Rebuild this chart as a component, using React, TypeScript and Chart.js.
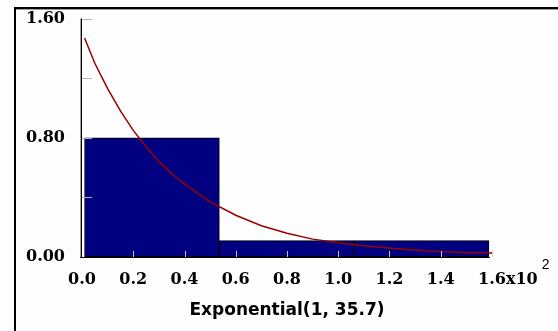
import React, { useEffect, useRef } from 'react';
import { Chart, registerables } from 'chart.js';

Chart.register(...registerables);

// Histogram bins (x in units of 10^2)
const binEdges = [0.01, 0.536, 1.062, 1.588];
const binHeights = [0.8, 0.11, 0.11];

// Fitted density curve
const curveX = [0.01, 0.05, 0.1, 0.15, 0.2, 0.25, 0.3, 0.35, 0.4, 0.45, 0.5, 0.6, 0.7, 0.8, 0.9, 1.0, 1.1, 1.2, 1.3, 1.4, 1.5, 1.6];
const curveY = [1.47, 1.3, 1.13, 0.98, 0.85, 0.74, 0.64, 0.56, 0.49, 0.43, 0.37, 0.28, 0.21, 0.16, 0.12, 0.095, 0.075, 0.06, 0.047, 0.035, 0.03, 0.027];

const yLabelValues = [0, 0.8, 1.6];
const titleText = 'Exponential(1, 35.7)';
const xMultiplier = 'x10';
const xExponent = '2';

const TICK_FONT = { family: 'DejaVu Serif', weight: 'bold' as const, size: 16 };
const TICK_LEN = 8; // Chart.js default tick mark length, reserved even with hidden grid
const X_TICK_PAD = 5;

const decorPlugin = {
  id: 'decor',
  beforeDraw(chart: any) {
    const ctx = chart.ctx;
    ctx.save();
    ctx.fillStyle = '#fefefe';
    ctx.fillRect(0, 0, chart.width, chart.height);
    // outer frame (top/left visible)
    ctx.fillStyle = '#000';
    ctx.fillRect(14, 7, chart.width - 14, 2);
    ctx.fillRect(14, 7, 2, chart.height - 7);
    ctx.fillStyle = '#9a9a9a';
    ctx.fillRect(16, 9, chart.width - 16, 1);
    ctx.restore();
  },
  afterDatasetsDraw(chart: any) {
    const ctx = chart.ctx;
    const xs = chart.scales.x;
    const ys = chart.scales.y;
    const { left, right, top, bottom } = chart.chartArea;
    ctx.save();
    // y tick marks (inside)
    ctx.strokeStyle = '#b4b4b4';
    ctx.lineWidth = 1;
    ys.ticks.forEach((t: any) => {
      const y = Math.round(ys.getPixelForValue(t.value)) + 0.5;
      ctx.beginPath();
      ctx.moveTo(left, y);
      ctx.lineTo(left + 10, y);
      ctx.stroke();
    });
    // x tick marks (inside)
    ctx.strokeStyle = '#c8c8c8';
    xs.ticks.forEach((t: any) => {
      if (t.value === 0) return;
      const x = Math.round(xs.getPixelForValue(t.value)) + 0.5;
      ctx.beginPath();
      ctx.moveTo(x, bottom - 6);
      ctx.lineTo(x, bottom);
      ctx.stroke();
    });
    // axis lines
    ctx.strokeStyle = '#a0a0a0';
    ctx.beginPath();
    ctx.moveTo(left - 1.5, top);
    ctx.lineTo(left - 1.5, bottom);
    ctx.stroke();
    ctx.strokeStyle = '#000';
    ctx.beginPath();
    ctx.moveTo(left - 0.5, top);
    ctx.lineTo(left - 0.5, bottom + 1);
    ctx.stroke();
    ctx.beginPath();
    ctx.moveTo(left - 2, bottom + 0.5);
    ctx.lineTo(right - 2, bottom + 0.5);
    ctx.stroke();
    ctx.restore();
  },
  afterDraw(chart: any) {
    const ctx = chart.ctx;
    const xs = chart.scales.x;
    const lastVal = xs.max;
    const px = xs.getPixelForValue(lastVal);
    ctx.save();
    ctx.font = `bold ${TICK_FONT.size}px "${TICK_FONT.family}"`;
    const w = ctx.measureText(lastVal.toFixed(1)).width;
    const y = xs.top + TICK_LEN + X_TICK_PAD + (TICK_FONT.size * 1.2) / 2;
    ctx.fillStyle = '#000';
    ctx.textBaseline = 'middle';
    ctx.textAlign = 'left';
    ctx.fillText(xMultiplier, px + w / 2, y);
    const w2 = ctx.measureText(xMultiplier).width;
    ctx.font = '14px "Liberation Sans"';
    ctx.fillText(xExponent, px + w / 2 + w2 + 4, y - 14);
    ctx.restore();
  },
};

export default function App() {
  const ref = useRef<HTMLCanvasElement | null>(null);

  useEffect(() => {
    document.body.style.margin = '0';
    const canvas = ref.current;
    if (!canvas) return;
    const chart = new Chart(canvas, {
      type: 'bar',
      data: {
        datasets: [
          {
            type: 'line',
            data: curveX.map((x, i) => ({ x, y: curveY[i] })),
            borderColor: '#990000',
            borderWidth: 1.5,
            pointRadius: 0,
            tension: 0,
            order: 0,
          } as any,
          {
            type: 'bar',
            data: binHeights.map((h, i) => ({ x: (binEdges[i] + binEdges[i + 1]) / 2, y: h })),
            backgroundColor: '#000080',
            borderColor: '#000',
            borderWidth: 1,
            borderSkipped: false,
            barThickness: 'flex',
            categoryPercentage: 1,
            barPercentage: 1,
            order: 1,
          } as any,
        ],
      },
      options: {
        animation: false,
        responsive: false,
        maintainAspectRatio: false,
        layout: { padding: { left: 0, top: 17, right: 66, bottom: 0 } },
        plugins: { legend: { display: false }, tooltip: { enabled: false } },
        scales: {
          x: {
            type: 'linear',
            min: 0,
            max: 1.6,
            offset: false,
            grid: { display: false, offset: false },
            border: { display: false },
            ticks: {
              stepSize: 0.2,
              padding: X_TICK_PAD,
              color: '#000',
              font: TICK_FONT,
              maxRotation: 0,
              autoSkip: false,
              callback: (v: any) => Number(v).toFixed(1),
            },
            title: {
              display: true,
              text: titleText,
              color: '#000',
              font: { family: 'DejaVu Sans', weight: 'bold', size: 17 },
              padding: { top: 0, bottom: 10 },
            },
            afterFit: (s: any) => {
              s.height = 74;
            },
          } as any,
          y: {
            type: 'linear',
            min: 0,
            max: 1.6,
            grid: { display: false },
            border: { display: false },
            ticks: {
              stepSize: 0.4,
              padding: 9,
              color: '#000',
              font: TICK_FONT,
              autoSkip: false,
              callback: (v: any) =>
                yLabelValues.some((t) => Math.abs(t - Number(v)) < 1e-6) ? Number(v).toFixed(2) : '',
            },
            afterFit: (s: any) => {
              s.width = 82;
            },
          } as any,
        },
      },
      plugins: [decorPlugin],
    });
    return () => chart.destroy();
  }, []);

  return (
    <div style={{ width: 558, height: 331 }}>
      <canvas ref={ref} width={558} height={331} style={{ display: 'block', width: 558, height: 331 }} />
    </div>
  );
}
